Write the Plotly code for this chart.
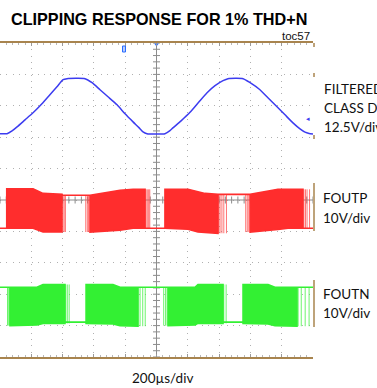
import numpy as np
import plotly.graph_objects as go

# ---------------- scope settings ----------------
TIME_PER_DIV = 200          # µs/div
N_XDIV = 10
N_YDIV = 10

ch_vdiv = [12.5, 10.0, 10.0]          # V/div: filtered output, FOUTP, FOUTN
ch_offset_div = [3.0, -0.9, -3.9]     # ground position of each channel, in divisions

# ---------------- filtered class D output (V vs µs) ----------------
filt_t = [0, 45, 77, 109, 160, 211, 268, 319, 364, 403, 428, 543, 588, 639, 690, 748,
          799, 850, 888, 914, 939, 1054, 1086, 1105, 1157, 1214, 1272, 1323, 1374, 1425,
          1457, 1553, 1598, 1661, 1712, 1770, 1821, 1872, 1917, 1949, 1975, 2000]
filt_v = [-11.1, -11.1, -10.0, -8.4, -5.6, -2.8, 0.8, 4.4, 7.6, 10.4, 10.8, 10.8, 9.2, 6.4,
          3.6, 0.4, -3.2, -6.4, -8.7, -10.4, -11.1, -11.1, -9.9, -8.8, -6.0, -2.6, 1.6, 5.2,
          8.0, 10.0, 10.8, 10.8, 9.2, 6.4, 3.2, -0.4, -3.6, -6.8, -9.2, -10.5, -11.0, -11.2]

# ---------------- FOUTP switching envelope (upper / lower rail of the PWM burst) ----------------
foutp_t = [0, 43, 43, 211, 275, 396, 396, 575, 575, 767, 850, 927, 927, 1054,
           1054, 1201, 1265, 1310, 1393, 1393, 1598, 1598, 1776, 1840, 1936, 1936, 2000]
foutp_hi = [0, 0, 12.6, 12.6, 11.1, 10.8, 10.5, 10.5, 10.5, 12.1, 12.4, 12.4, 0, 0,
            12.4, 12.4, 11.5, 11.1, 10.8, 10.8, 10.8, 10.8, 12.4, 12.4, 12.4, 0, 0]
foutp_lo = [0, 0, 0, 0, -1.2, -1.2, 10.5, 10.5, -1.2, -0.6, 0, 0, 0, 0,
            0, -0.3, -1.2, -1.4, -1.6, 10.8, 10.8, -1.2, -0.4, 0, 0, 0, 0]
# isolated pulses at the edges of the clipped intervals
foutp_pulse_t = [402, 410, 418, 548, 558, 566, 933, 941, 950, 957, 1398, 1406, 1418,
                 1430, 1447, 1570, 1580, 1590, 1942, 1952, 1962, 1978]
foutp_pulse_hi = [10.5, 10.5, 10.5, 10.5, 10.5, 10.5, 12.4, 12.4, 12.4, 12.4, 10.8, 10.8, 10.8,
                  10.8, 10.8, 10.8, 10.8, 10.8, 12.4, 12.4, 12.4, 12.4]
foutp_pulse_lo = [-1.2, -1.2, -1.2, -1.2, -1.2, -1.2, 0, 0, 0, 0, -1.6, -1.6, -1.6,
                  -1.6, -1.6, -1.2, -1.2, -1.2, 0, 0, 0, 0]

# ---------------- FOUTN switching envelope ----------------
foutn_t = [0, 64, 64, 236, 275, 415, 415, 550, 550, 722, 767, 882, 882, 1074,
           1074, 1246, 1265, 1425, 1425, 1553, 1553, 1713, 1757, 1898, 1898, 2000]
foutn_hi = [11.2, 11.2, 11.2, 11.2, 12.1, 12.1, 0.1, 0.1, 12.1, 12.1, 11.2, 11.2, 11.2, 11.2,
            11.2, 11.2, 12.1, 12.1, 0.1, 0.1, 12.1, 12.1, 11.2, 11.2, 11.2, 11.2]
foutn_lo = [11.2, 11.2, -1.0, -0.8, -0.3, -0.3, 0.1, 0.1, -0.3, -0.5, -1.0, -1.2, 11.2, 11.2,
            -1.0, -0.8, -0.3, -0.3, 0.1, 0.1, -0.3, -0.5, -1.0, -1.2, 11.2, 11.2]
foutn_pulse_t = [48, 56, 62, 420, 430, 442, 895, 912, 928, 1046, 1058, 1068,
                 1430, 1445, 1905, 1925, 1950, 1975]
foutn_pulse_hi = [11.2, 11.2, 11.2, 12.1, 12.1, 12.1, 11.2, 11.2, 11.2, 11.2, 11.2, 11.2,
                  12.1, 12.1, 11.2, 11.2, 11.2, 11.2]
foutn_pulse_lo = [-1.0, -1.0, -1.0, -0.3, -0.3, -0.3, -1.2, -1.2, -1.2, -1.0, -1.0, -1.0,
                  -0.3, -0.3, -1.2, -1.2, -1.2, -1.2]

# ---------------- colours ----------------
BLUE = "#3c3cf0"
RED = "#ff2d2d"
GREEN = "#33f033"
FRAME = "#a8844e"
GRID = "#b0b0b0"
AXIS = "#8c8c8c"

W, H = 377, 388
PLOT_L, PLOT_R, PLOT_T, PLOT_B = 0, 313, 43, 357


def px_x(p):
    return (p - PLOT_L) / (PLOT_R - PLOT_L)


def px_y(p):
    return (PLOT_B - p) / (PLOT_B - PLOT_T)


def ch_range(i):
    off, v = ch_offset_div[i], ch_vdiv[i]
    return [(-N_YDIV / 2 - off) * v, (N_YDIV / 2 - off) * v]


def envelope(t, hi, lo):
    return list(t) + list(t)[::-1], list(hi) + list(lo)[::-1]


def pulses(t, hi, lo):
    xs, ys = [], []
    for tt, h, l in zip(t, hi, lo):
        xs += [tt, tt, None]
        ys += [l, h, None]
    return xs, ys


fig = go.Figure()

# FOUTP
ex, ey = envelope(foutp_t, foutp_hi, foutp_lo)
px_, py_ = pulses(foutp_pulse_t, foutp_pulse_hi, foutp_pulse_lo)
fig.add_trace(go.Scatter(x=px_, y=py_, mode="lines", yaxis="y3",
                         line=dict(color="rgba(255,70,70,0.75)", width=1), hoverinfo="skip"))
fig.add_trace(go.Scatter(x=ex, y=ey, mode="lines", fill="toself", fillcolor=RED, yaxis="y3",
                         line=dict(color=RED, width=1.6), hoverinfo="skip"))

# FOUTN
ex, ey = envelope(foutn_t, foutn_hi, foutn_lo)
px_, py_ = pulses(foutn_pulse_t, foutn_pulse_hi, foutn_pulse_lo)
fig.add_trace(go.Scatter(x=px_, y=py_, mode="lines", yaxis="y4",
                         line=dict(color="rgba(60,240,60,0.75)", width=1), hoverinfo="skip"))
fig.add_trace(go.Scatter(x=ex, y=ey, mode="lines", fill="toself", fillcolor=GREEN, yaxis="y4",
                         line=dict(color=GREEN, width=1.6), hoverinfo="skip"))

# filtered output
fig.add_trace(go.Scatter(x=filt_t, y=filt_v, mode="lines", yaxis="y2",
                         line=dict(color=BLUE, width=1.5, shape="spline", smoothing=0.5),
                         hoverinfo="skip"))

# centre crosshair with fine ticks
t_end = TIME_PER_DIV * N_XDIV
fig.add_trace(go.Scatter(x=[0, t_end], y=[0, 0], mode="lines",
                         line=dict(color=AXIS, width=1), hoverinfo="skip"))
fig.add_trace(go.Scatter(x=[t_end / 2, t_end / 2], y=[-N_YDIV / 2, N_YDIV / 2], mode="lines",
                         line=dict(color=AXIS, width=1), hoverinfo="skip"))
xt = np.arange(0, t_end + 1, TIME_PER_DIV / 5)
fig.add_trace(go.Scatter(x=xt, y=np.zeros(len(xt)),
                         mode="markers", hoverinfo="skip",
                         marker=dict(symbol="line-ns", size=5, line=dict(color=AXIS, width=1))))
yt = np.arange(-N_YDIV / 2, N_YDIV / 2 + 0.01, 0.2)
fig.add_trace(go.Scatter(x=np.full(len(yt), t_end / 2), y=yt,
                         mode="markers", hoverinfo="skip",
                         marker=dict(symbol="line-ew", size=5, line=dict(color=AXIS, width=1))))
# trigger position marker on the top edge
fig.add_trace(go.Scatter(x=[t_end / 2], y=[N_YDIV / 2 - 0.05], mode="markers", hoverinfo="skip",
                         marker=dict(symbol="triangle-down", size=4, color="#2a6cff")))

shapes = []
# right-edge frame segments
for y0, y1 in [(43, 47), (73, 77), (135, 139), (183, 231), (280, 327)]:
    shapes.append(dict(type="line", xref="paper", yref="paper", x0=px_x(314), x1=px_x(314),
                       y0=px_y(y0), y1=px_y(y1), line=dict(color=FRAME, width=1.5)))
# small trigger-level marker below the top edge
shapes.append(dict(type="rect", xref="paper", yref="paper",
                   x0=px_x(122.5), x1=px_x(125.5), y0=px_y(52), y1=px_y(46),
                   line=dict(color="#2a6cff", width=1), fillcolor="rgba(42,108,255,0.35)"))
fig.update_layout(shapes=shapes)

fig.add_annotation(xref="paper", yref="paper", x=px_x(312), y=px_y(113), text="◂",
                   showarrow=False, font=dict(family="DejaVu Sans", size=7, color=BLUE))

LABEL_FONT = dict(family="Lato", size=13.5, color="#111111")
labels = [
    ("FILTERED", 322, 89), ("CLASS D", 322, 108), ("12.5V/div", 322, 127),
    ("FOUTP", 320.5, 198), ("10V/div", 320.5, 218),
    ("FOUTN", 321, 294), ("10V/div", 321, 313),
    ("200µs/div", 130, 378),
]
for txt, x, y in labels:
    fig.add_annotation(xref="paper", yref="paper", x=px_x(x), y=px_y(y), text=txt,
                       xanchor="left", yanchor="middle", showarrow=False, font=LABEL_FONT)

fig.add_annotation(xref="paper", yref="paper", x=px_x(9), y=px_y(19),
                   text="<b>CLIPPING RESPONSE FOR 1% THD+N</b>",
                   xanchor="left", yanchor="middle", showarrow=False,
                   font=dict(family="Liberation Sans", size=16.2, color="#000000"))
fig.add_annotation(xref="paper", yref="paper", x=px_x(280), y=px_y(36), text="toc57",
                   xanchor="left", yanchor="middle", showarrow=False,
                   font=dict(family="Liberation Sans", size=11.5, color="#111111"))

fig.update_layout(
    width=W, height=H,
    margin=dict(l=PLOT_L, r=W - PLOT_R, t=PLOT_T, b=H - PLOT_B, pad=0),
    paper_bgcolor="white", plot_bgcolor="white",
    showlegend=False,
    xaxis=dict(range=[0, t_end], dtick=TIME_PER_DIV, tick0=0, showticklabels=False,
               showgrid=True, gridcolor=GRID, griddash="1px,5.3px", gridwidth=1,
               zeroline=False, showline=True, linecolor=FRAME, linewidth=1.5, mirror="ticks",
               ticks="inside", ticklen=3, tickcolor="#9a9a9a",
               minor=dict(dtick=TIME_PER_DIV / 5, ticks="inside", ticklen=2,
                          tickcolor="#b8b8b8", showgrid=False),
               fixedrange=True),
    yaxis=dict(range=[-N_YDIV / 2, N_YDIV / 2], dtick=1, showticklabels=False,
               showgrid=True, gridcolor=GRID, griddash="1px,5.3px", gridwidth=1,
               zeroline=False, showline=False, ticks="", fixedrange=True),
    yaxis2=dict(overlaying="y", range=ch_range(0), visible=False),
    yaxis3=dict(overlaying="y", range=ch_range(1), visible=False),
    yaxis4=dict(overlaying="y", range=ch_range(2), visible=False),
)

fig.write_html("out.html")
